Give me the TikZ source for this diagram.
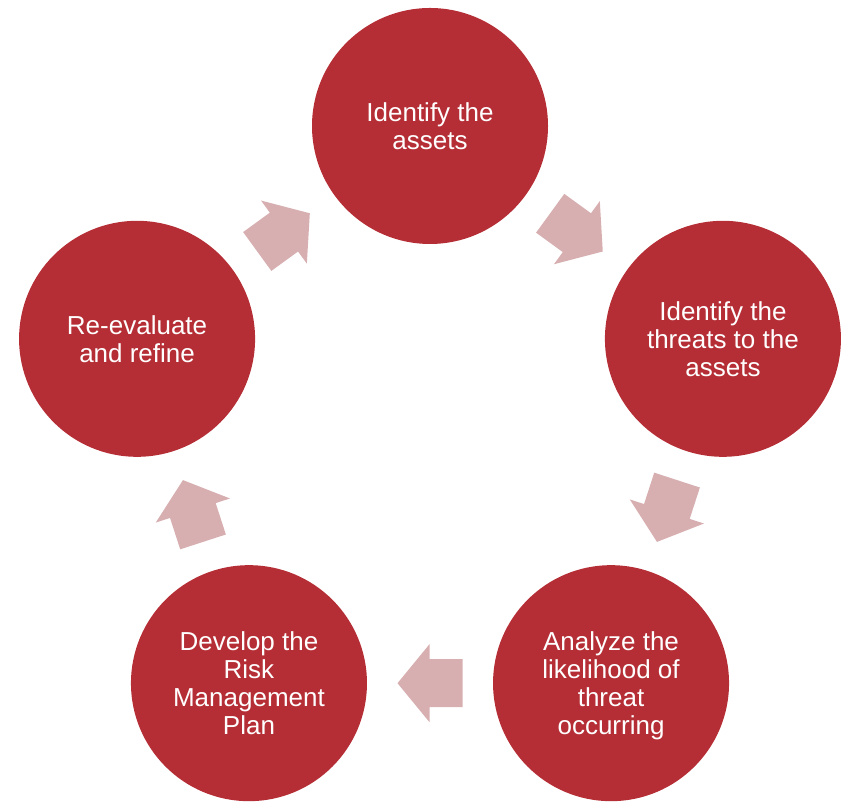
\documentclass[tikz,border=0pt]{standalone}
\usepackage{fontspec}
\setmainfont{Liberation Sans}
\usetikzlibrary{calc}
\definecolor{stepred}{HTML}{B52D35}
\definecolor{arrowpink}{HTML}{D7AFB1}
\begin{document}
\begin{tikzpicture}[x=1pt,y=1pt,
  stage/.style={circle, fill=stepred, draw=none, minimum size=236pt, inner sep=0pt,
    text=white, align=center, text depth=0pt, font=\fontsize{26}{28}\selectfont},
  blockarrow/.style={fill=arrowpink, draw=none}]
\useasboundingbox (0,0) rectangle (848,802);
\coordinate (O) at (430,368);
\node[stage] (s1) at ($(O)+(90:308)$) {Identify the\\assets};
\node[stage] (s2) at ($(O)+(18:308)$) {Identify the\\threats to the\\assets};
\node[stage] (s3) at ($(O)+(-54:308)$) {Analyze the\\likelihood of\\threat\\occurring};
\node[stage] (s4) at ($(O)+(-126:308)$) {Develop the\\Risk\\Management\\Plan};
\node[stage] (s5) at ($(O)+(162:308)$) {Re-evaluate\\and refine};
\foreach \a in {54,-18,-90,-162,126}{
  \begin{scope}[shift={(O)}]
  \begin{scope}[shift={(\a:249.2)}, rotate=\a-90]
    \path[blockarrow] (-32.5,-24) -- (0.5,-24) -- (0.5,-39) -- (32.5,0) -- (0.5,39) -- (0.5,24) -- (-32.5,24) -- cycle;
  \end{scope}
  \end{scope}
}
\end{tikzpicture}
\end{document}
